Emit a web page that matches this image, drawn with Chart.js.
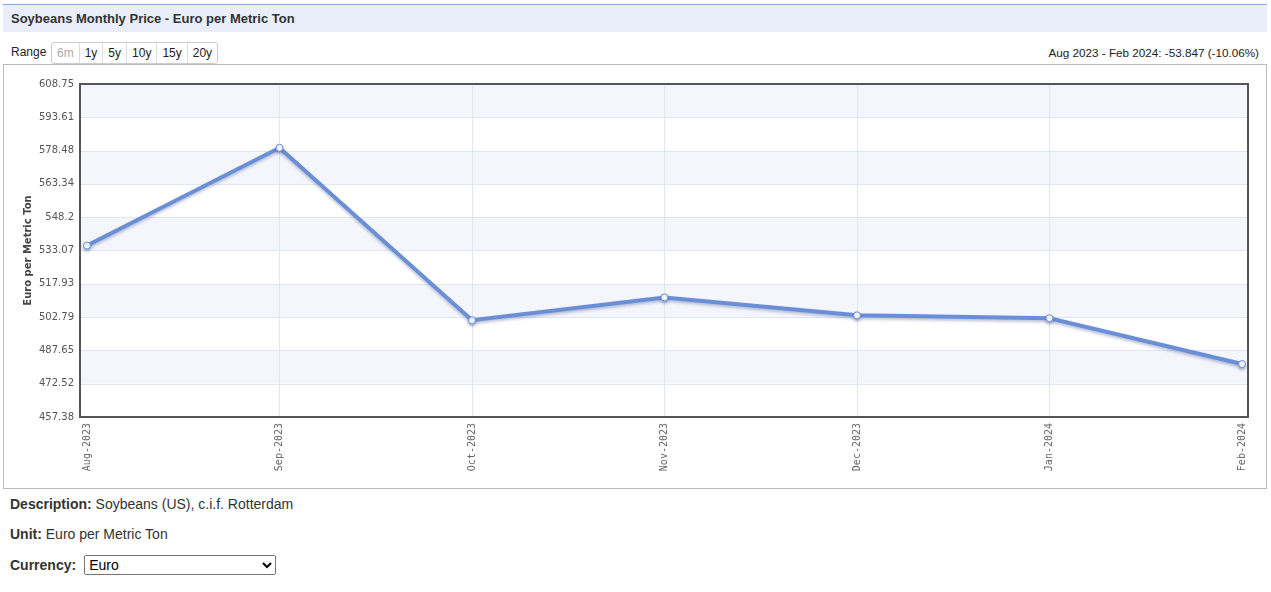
<!DOCTYPE html>
<html>
<head>
<meta charset="utf-8">
<script src="https://cdn.jsdelivr.net/npm/chart.js@4"></script>
<style>
  html,body{margin:0;padding:0;background:#fff;font-family:"Liberation Sans",Arial,sans-serif;color:#333;}
  #titlebar{position:absolute;left:3px;top:4px;width:1264px;height:27px;background:#e9eef9;border-top:1px solid #8aa6dc;}
  #titlebar span{position:absolute;left:8px;top:6px;font-weight:bold;font-size:13px;color:#333;}
  #range{position:absolute;left:11px;top:45px;font-size:12px;color:#222;}
  #btns{position:absolute;left:51px;top:42px;height:20px;border:1px solid #ccc;border-radius:3px;display:flex;font-size:12px;}
  #btns div{padding:0 5px;line-height:20px;border-left:1px solid #ddd;color:#222;}
  #btns div:first-child{border-left:none;color:#aaa;}
  #change{position:absolute;right:12px;top:46px;font-size:11.7px;color:#222;}
  #box{position:absolute;left:3px;top:64px;width:1262px;height:423px;border:1px solid #bbb;}
  #box canvas{position:absolute;left:0;top:0;}
  .info{position:absolute;left:10px;font-size:14px;color:#333;}
  .info b{color:#333;}
  select{font-size:14px;width:192px;height:20px;margin-left:8px;font-family:"Liberation Sans",Arial,sans-serif;}
</style>
</head>
<body>
<div id="titlebar"><span>Soybeans Monthly Price - Euro per Metric Ton</span></div>
<div id="range">Range</div>
<div id="btns"><div>6m</div><div>1y</div><div>5y</div><div>10y</div><div>15y</div><div>20y</div></div>
<div id="change">Aug 2023 - Feb 2024: -53.847 (-10.06%)</div>
<div id="box"><canvas id="c" width="1262" height="423"></canvas></div>
<div class="info" style="top:496px"><b>Description:</b> Soybeans (US), c.i.f. Rotterdam</div>
<div class="info" style="top:526px"><b>Unit:</b> Euro per Metric Ton</div>
<div class="info" style="top:555px"><b>Currency:</b><select><option>Euro</option></select></div>
<script>
const categories = ["Aug-2023","Sep-2023","Oct-2023","Nov-2023","Dec-2023","Jan-2024","Feb-2024"];
const prices = [535.3, 579.75, 501.35, 511.75, 503.6, 502.3, 481.45];
const yTicks = [457.38, 472.52, 487.65, 502.79, 517.93, 533.07, 548.2, 563.34, 578.48, 593.61, 608.75];
const yTitle = "Euro per Metric Ton";
const EXT_L = 7, EXT_R = 6;

const decor = {
  id: 'decor',
  beforeDraw(chart) {
    const {ctx, chartArea:a, scales:{y}} = chart;
    const L = a.left - EXT_L, R = a.right + EXT_R;
    ctx.save();
    for (let i = 0; i < yTicks.length - 1; i++) {
      const top = y.getPixelForValue(yTicks[i+1]);
      const bot = y.getPixelForValue(yTicks[i]);
      ctx.fillStyle = (i % 2 === 1) ? '#f4f6fc' : '#ffffff';
      ctx.fillRect(L, top, R - L, bot - top);
    }
    ctx.strokeStyle = '#dfe5f3';
    ctx.lineWidth = 1;
    for (const v of yTicks) {
      const py = Math.round(y.getPixelForValue(v)) + 0.5;
      ctx.beginPath(); ctx.moveTo(L, py); ctx.lineTo(R, py); ctx.stroke();
    }
    ctx.restore();
  },
  beforeDatasetDraw(chart) {
    const ctx = chart.ctx;
    ctx.save();
    ctx.shadowColor = 'rgba(60,80,140,0.35)';
    ctx.shadowBlur = 3;
    ctx.shadowOffsetY = 2;
  },
  afterDatasetDraw(chart) {
    chart.ctx.restore();
  },
  afterDraw(chart) {
    const {ctx, chartArea:a} = chart;
    ctx.save();
    ctx.strokeStyle = '#555';
    ctx.lineWidth = 2;
    ctx.strokeRect(a.left - EXT_L, a.top, a.right - a.left + EXT_L + EXT_R, a.bottom - a.top);
    ctx.translate(24, (a.top + a.bottom) / 2);
    ctx.rotate(-Math.PI / 2);
    ctx.font = 'bold 10px "DejaVu Sans", Verdana, sans-serif';
    ctx.fillStyle = '#444';
    ctx.textAlign = 'center';
    ctx.textBaseline = 'middle';
    ctx.fillText(yTitle, 0, 0);
    ctx.restore();
  }
};

new Chart(document.getElementById('c'), {
  type: 'line',
  data: {
    labels: categories,
    datasets: [{
      data: prices,
      borderColor: '#6b8fd6',
      borderWidth: 4,
      pointRadius: 3.5,
      pointBorderWidth: 1,
      pointBackgroundColor: '#ffffff',
      pointBorderColor: '#6b8fd6',
      tension: 0,
      clip: false
    }]
  },
  options: {
    responsive: false,
    animation: false,
    events: [],
    layout: {padding: {left: 0, right: 24, top: 17, bottom: 0}},
    plugins: {legend: {display: false}, tooltip: {enabled: false}},
    scales: {
      x: {
        offset: false,
        grid: {
          color: (c) => (c.index === 0 || c.index === categories.length - 1) ? 'rgba(0,0,0,0)' : '#dfe5f3',
          drawTicks: false
        },
        border: {display: false},
        ticks: {
          maxRotation: 90, minRotation: 90, autoSkip: false, padding: 6,
          color: '#666', font: {family: '"DejaVu Sans Mono", monospace', size: 10}
        },
        afterFit(s) { s.height = 71; }
      },
      y: {
        min: yTicks[0], max: yTicks[yTicks.length - 1],
        afterBuildTicks(s) { s.ticks = yTicks.map(v => ({value: v})); },
        grid: {display: false, drawTicks: false},
        border: {display: false},
        ticks: {
          padding: 13, color: '#555',
          font: {family: '"DejaVu Sans", Verdana, sans-serif', size: 10},
          callback: (v) => String(v)
        },
        afterFit(s) { s.width = 83; }
      }
    }
  },
  plugins: [decor]
});
</script>
</body>
</html>
